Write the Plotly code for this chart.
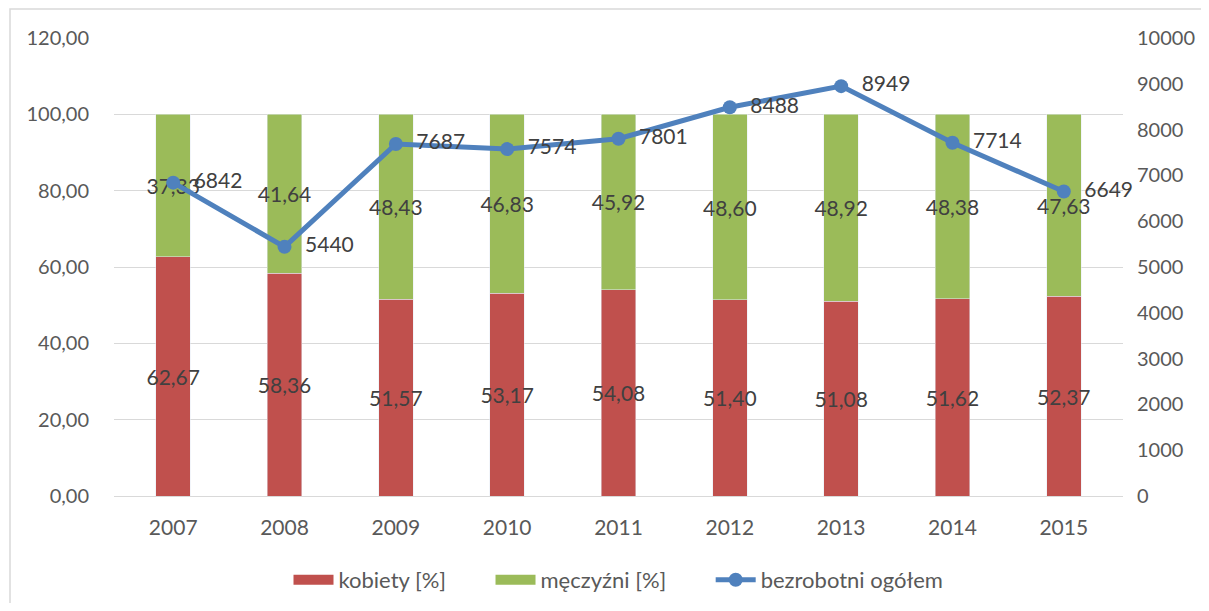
import plotly.graph_objects as go

years = ["2007", "2008", "2009", "2010", "2011", "2012", "2013", "2014", "2015"]
kobiety = [62.67, 58.36, 51.57, 53.17, 54.08, 51.40, 51.08, 51.62, 52.37]
mezczyzni = [37.33, 41.64, 48.43, 46.83, 45.92, 48.60, 48.92, 48.38, 47.63]
bezrobotni = [6842, 5440, 7687, 7574, 7801, 8488, 8949, 7714, 6649]

left_ticks = [0, 20, 40, 60, 80, 100, 120]
left_labels = ["0,00", "20,00", "40,00", "60,00", "80,00", "100,00", "120,00"]
right_ticks = list(range(0, 10001, 1000))

RED = "#C0504D"
GREEN = "#9BBB59"
BLUE = "#4F81BD"

def fmt(v):
    return f"{v:.2f}".replace(".", ",")

FONT = "Lato"
TXT = "#404040"
AX = "#595959"
GAP = "\u00a0" * 7

# page body has an 8px margin: figure sized so it fits the window
W, H = 1193, 595
ML, MT, MR, MB = 106, 30, 78, 107
PW, PH = W - ML - MR, H - MT - MB

fig = go.Figure()
fig.add_trace(go.Bar(
    x=years, y=kobiety, name="kobiety [%]", marker_color=RED, showlegend=False,
    text=[fmt(v) for v in kobiety], textposition="inside", insidetextanchor="middle",
    textfont=dict(size=21, color=TXT, family=FONT), textangle=0, constraintext="none",
))
fig.add_trace(go.Bar(
    x=years, y=mezczyzni, name="męczyźni [%]", marker_color=GREEN, showlegend=False,
    text=[fmt(v) for v in mezczyzni], textposition="inside", insidetextanchor="middle",
    textfont=dict(size=21, color=TXT, family=FONT), textangle=0, constraintext="none",
))
fig.add_trace(go.Scatter(
    x=years, y=bezrobotni, name="bezrobotni ogółem", yaxis="y2",
    mode="lines+markers+text", line=dict(color=BLUE, width=5),
    marker=dict(size=14, color=BLUE), showlegend=False,
    text=["  " + str(v) for v in bezrobotni], textposition="middle right",
    textfont=dict(size=21, color=TXT, family=FONT), cliponaxis=False,
))
# legend entries (wide rectangular swatches like the original)
fig.add_trace(go.Scatter(x=[None], y=[None], mode="lines", name="kobiety [%]" + GAP,
                         line=dict(color=RED, width=13)))
fig.add_trace(go.Scatter(x=[None], y=[None], mode="lines", name="męczyźni [%]" + GAP,
                         line=dict(color=GREEN, width=13)))
fig.add_trace(go.Scatter(x=[None], y=[None], mode="lines+markers", name="bezrobotni ogółem",
                         line=dict(color=BLUE, width=5), marker=dict(size=14, color=BLUE)))

fig.update_layout(
    width=W, height=H,
    barmode="stack", bargap=0.69,
    paper_bgcolor="white", plot_bgcolor="white",
    margin=dict(l=ML, r=MR, t=MT, b=MB, autoexpand=False),
    font=dict(family=FONT, color=AX, size=20),
    xaxis=dict(showgrid=False, showline=True, linecolor="#D9D9D9", linewidth=1,
               ticks="", automargin=False, ticklabelstandoff=13,
               tickfont=dict(size=21, color=AX)),
    yaxis=dict(range=[0, 120], tickvals=left_ticks, ticktext=left_labels,
               showgrid=True, gridcolor="#D9D9D9", gridwidth=1, zeroline=False,
               ticks="", ticklabelstandoff=24, automargin=False,
               tickfont=dict(size=20, color=AX)),
    yaxis2=dict(range=[0, 10000], tickvals=right_ticks,
                ticktext=[str(v) for v in right_ticks], overlaying="y", side="right",
                showgrid=False, zeroline=False, ticks="", ticklabelstandoff=13,
                automargin=False, tickfont=dict(size=20, color=AX)),
    legend=dict(orientation="h", x=0.5, xanchor="center", y=-(580 - 8 - MT - PH) / PH,
                yanchor="middle", font=dict(size=22, color=AX), traceorder="normal",
                itemwidth=40, itemsizing="trace"),
    showlegend=True,
)
fig.add_shape(type="rect", xref="paper", yref="paper",
              x0=(2 - ML) / PW, x1=1.3, y0=-0.5, y1=1 + (MT - 1) / PH,
              line=dict(color="#D9D9D9", width=1.5), fillcolor="rgba(0,0,0,0)", layer="below")

fig.write_html("out.html")
